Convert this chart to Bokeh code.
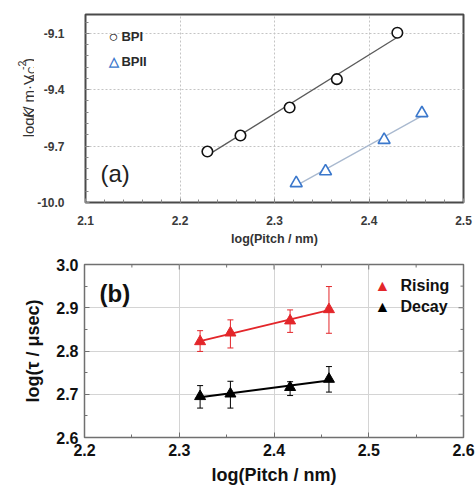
import numpy as np
from bokeh.plotting import figure
from bokeh.models import (FixedTicker, PrintfTickFormatter, Label,
                          Whisker, TeeHead, ColumnDataSource, Range1d)
from bokeh.layouts import column, row
from bokeh.embed import file_html
from bokeh.resources import INLINE

# ---------------- data ----------------
# panel (a)
bpi_x = [2.229, 2.264, 2.316, 2.366, 2.430]
bpi_y = [-9.729, -9.644, -9.495, -9.344, -9.097]
bpii_x = [2.323, 2.354, 2.416, 2.456]
bpii_y = [-9.897, -9.834, -9.667, -9.525]
a_xticks = [2.1, 2.2, 2.3, 2.4, 2.5]
a_yticks = [-10.0, -9.7, -9.4, -9.1]

# panel (b)
pitch_b = [2.322, 2.354, 2.417, 2.458]
rise_y = [2.822, 2.842, 2.870, 2.896]
rise_hi = [2.847, 2.872, 2.895, 2.949]
rise_lo = [2.799, 2.807, 2.843, 2.841]
decay_y = [2.695, 2.701, 2.716, 2.735]
decay_hi = [2.720, 2.730, 2.729, 2.764]
decay_lo = [2.668, 2.668, 2.697, 2.705]
b_xticks = [2.2, 2.3, 2.4, 2.5, 2.6]
b_yticks = [2.6, 2.7, 2.8, 2.9, 3.0]

FONT = "Liberation Sans"
RED = "#e3262a"
BLUE = "#3b78cc"


def mapper(x0, x1, y0, y1, left, top, w, h):
    fx = lambda px: x0 + (px - left) / w * (x1 - x0)
    fy = lambda py: y0 + (top + h - py) / h * (y1 - y0)
    return fx, fy


def fit(xs, ys):
    c = np.polyfit(xs, ys, 1)
    ex = np.array([min(xs), max(xs)])
    return ex, np.polyval(c, ex)


def lab(p, fx, fy, px, py, text, size, color="#222222", style="normal",
        align="left", baseline="middle", angle=0.0):
    p.add_layout(Label(x=fx(px), y=fy(py), text=text, text_font=FONT,
                       text_font_size=f"{size}px", text_color=color,
                       text_font_style=style, text_align=align,
                       text_baseline=baseline, angle=angle))


def style_axis(ax, size, color, tick_color, tin, min_in):
    ax.axis_line_color = None
    ax.major_tick_in = tin
    ax.major_tick_out = 0
    ax.minor_tick_in = min_in
    ax.minor_tick_out = 0
    ax.major_tick_line_color = tick_color
    ax.minor_tick_line_color = tick_color
    ax.major_label_text_font = FONT
    ax.major_label_text_font_size = size
    ax.major_label_text_font_style = "bold"
    ax.major_label_text_color = color


TOTAL_W = 475
FL = 84           # frame left (page px)
FW = 379          # frame width
RB = TOTAL_W - FL - FW
HA = 248
# ---------------- panel (a) y-label strip ----------------
LW = 34
lf = figure(width=LW, height=HA, x_range=Range1d(0, LW), y_range=Range1d(0, HA),
            min_border=0, x_axis_type=None, y_axis_type=None,
            output_backend="svg", toolbar_location=None)
lf.outline_line_color = None
lf.grid.visible = False
sx = lambda px: px
sy = lambda py: HA - py
M, S = 15, 10.5
pieces = [("log(", M, "normal", 0, 1.667),
          ("K", M, "italic", 0, 0.667),
          (" / m·V", M, "normal", 0, 2.612),
          ("AC", S, "normal", 3.5, 1.389),
          ("-2", S, "normal", -6.5, 0.889),
          (" )", M, "normal", 0, 0.611)]
base_x = 28
cur_y = 162.0
for txt, sz, st, dx, em in pieces:
    lab(lf, sx, sy, base_x + dx, cur_y, txt, sz, color="#333333", style=st,
        baseline="alphabetic", angle=np.pi / 2)
    cur_y -= em * sz

# ---------------- panel (a) ----------------
pa = figure(width=TOTAL_W - LW, height=HA, min_border_left=FL - LW,
            min_border_right=RB, min_border_top=14, min_border_bottom=46,
            x_range=Range1d(2.1, 2.5), y_range=Range1d(-10.0, -9.0),
            output_backend="svg", toolbar_location=None)
pa.background_fill_color = "white"
pa.border_fill_color = "white"
pa.outline_line_color = "#4a4a4a"
pa.outline_line_width = 2

ax_b = pa.below[0]
ax_l = pa.left[0]
ax_b.ticker = FixedTicker(ticks=a_xticks,
                          minor_ticks=list(np.round(np.arange(2.1, 2.5001, 0.02), 3)))
ax_l.ticker = FixedTicker(ticks=a_yticks,
                          minor_ticks=list(np.round(np.arange(-10.0, -8.999, 0.06), 3)))
ax_b.formatter = PrintfTickFormatter(format="%.1f")
ax_l.formatter = PrintfTickFormatter(format="%.1f")
for ax in (ax_b, ax_l):
    style_axis(ax, "12px", "#3a3a3a", "#888888", 4, 3)
ax_b.major_label_standoff = 13
ax_l.major_label_standoff = 21
ax_b.axis_label = "log(Pitch / nm)"
ax_b.axis_label_text_font = FONT
ax_b.axis_label_text_font_size = "12.5px"
ax_b.axis_label_text_font_style = "bold"
ax_b.axis_label_text_color = "#333333"
ax_b.axis_label_standoff = 4
pa.grid.grid_line_color = "#c4c4c4"
pa.grid.grid_line_dash = "2 2"
pa.grid.grid_line_width = 1

ex, ey = fit(bpi_x, bpi_y)
pa.line(ex, ey, line_color="#5a5a5a", line_width=1.3)
ex, ey = fit(bpii_x, bpii_y)
pa.line(ex, ey, line_color="#a9b9cf", line_width=1.3)
pa.scatter(bpi_x, bpi_y, marker="circle", size=10.5, fill_color="white",
           line_color="#111111", line_width=1.6)
pa.scatter(bpii_x, bpii_y, marker="triangle", size=12, fill_color="white",
           line_color=BLUE, line_width=1.6)

fx, fy = mapper(2.1, 2.5, -10.0, -9.0, FL, 14, FW, 188)
lab(pa, fx, fy, 99, 173, "(a)", 24, color="#222222")
lab(pa, fx, fy, 107, 36, "○", 16, color="#111111")
lab(pa, fx, fy, 120, 36, "BPI", 13, color="#2a2a2a", style="bold")
lab(pa, fx, fy, 108, 61, "△", 13, color=BLUE, style="bold")
lab(pa, fx, fy, 120, 61, "BPII", 13, color="#2a2a2a", style="bold")

# ---------------- panel (b) ----------------
HB = 240
FBT = 16
FBH = 173
pb = figure(width=TOTAL_W, height=HB, min_border_left=FL,
            min_border_right=RB, min_border_top=FBT, min_border_bottom=HB - FBT - FBH,
            x_range=Range1d(2.2, 2.6), y_range=Range1d(2.6, 3.0),
            output_backend="svg", toolbar_location=None)
pb.background_fill_color = "white"
pb.border_fill_color = "white"
pb.outline_line_color = "#707070"
pb.outline_line_width = 1.5

b_xminor = list(np.round(np.arange(2.2, 2.6001, 0.05), 3))
b_yminor = list(np.round(np.arange(2.6, 3.0001, 0.05), 3))
bb = pb.below[0]
bl = pb.left[0]
bb.ticker = FixedTicker(ticks=b_xticks, minor_ticks=b_xminor)
bl.ticker = FixedTicker(ticks=b_yticks, minor_ticks=b_yminor)
bb.formatter = PrintfTickFormatter(format="%.1f")
bl.formatter = PrintfTickFormatter(format="%.1f")
for ax in (bb, bl):
    style_axis(ax, "16px", "#111111", "#707070", 5, 3)
bb.major_label_standoff = 6
bl.major_label_standoff = 6
bl.axis_label = "log(τ / μsec)"
bl.axis_label_text_font = FONT
bl.axis_label_text_font_size = "18px"
bl.axis_label_text_font_style = "bold"
bl.axis_label_text_color = "#111111"
bl.axis_label_standoff = 10
bb.axis_label = "log(Pitch / nm)"
bb.axis_label_text_font = FONT
bb.axis_label_text_font_size = "18px"
bb.axis_label_text_font_style = "bold"
bb.axis_label_text_color = "#111111"
bb.axis_label_standoff = 6
pb.grid.grid_line_color = "#d4d4d4"
pb.grid.grid_line_width = 1

# inward ticks on the top and right edges
dyx = 0.4 / FBH
dxy = 0.4 / FW
is_major = lambda t: abs(t * 10 - round(t * 10)) < 1e-6
pb.segment(x0=b_xminor, y0=[3.0] * len(b_xminor), x1=b_xminor,
           y1=[3.0 - (5 if is_major(t) else 3) * dyx for t in b_xminor],
           line_color="#707070", line_width=1)
pb.segment(x0=[2.6] * len(b_yminor), y0=b_yminor,
           x1=[2.6 - (5 if is_major(t) else 3) * dxy for t in b_yminor],
           y1=b_yminor, line_color="#707070", line_width=1)

for ys, hi, lo, col in ((rise_y, rise_hi, rise_lo, RED),
                        (decay_y, decay_hi, decay_lo, "#000000")):
    src = ColumnDataSource(dict(x=pitch_b, hi=hi, lo=lo))
    pb.add_layout(Whisker(source=src, base="x", upper="hi", lower="lo",
                          line_color=col, line_width=1,
                          upper_head=TeeHead(size=6, line_color=col, line_width=1),
                          lower_head=TeeHead(size=6, line_color=col, line_width=1)))
    ex, ey = fit(pitch_b, ys)
    pb.line(ex, ey, line_color=col, line_width=2)
    pb.scatter(pitch_b, ys, marker="triangle", size=11, fill_color=col,
               line_color=col, line_width=1)

gx, gy = mapper(2.2, 2.6, 2.6, 3.0, FL, HA + FBT, FW, FBH)
lab(pb, gx, gy, 99, 293, "(b)", 24, color="#111111", style="bold")
lab(pb, gx, gy, 374, 285, "▲", 16, color=RED)
lab(pb, gx, gy, 400, 285, "Rising", 16, color="#111111", style="bold")
lab(pb, gx, gy, 374, 306, "▲", 16, color="#000000")
lab(pb, gx, gy, 400, 306, "Decay", 16, color="#111111", style="bold")

layout = column(row(lf, pa, spacing=0), pb, spacing=0)
open("out.html", "w").write(file_html(layout, INLINE))
